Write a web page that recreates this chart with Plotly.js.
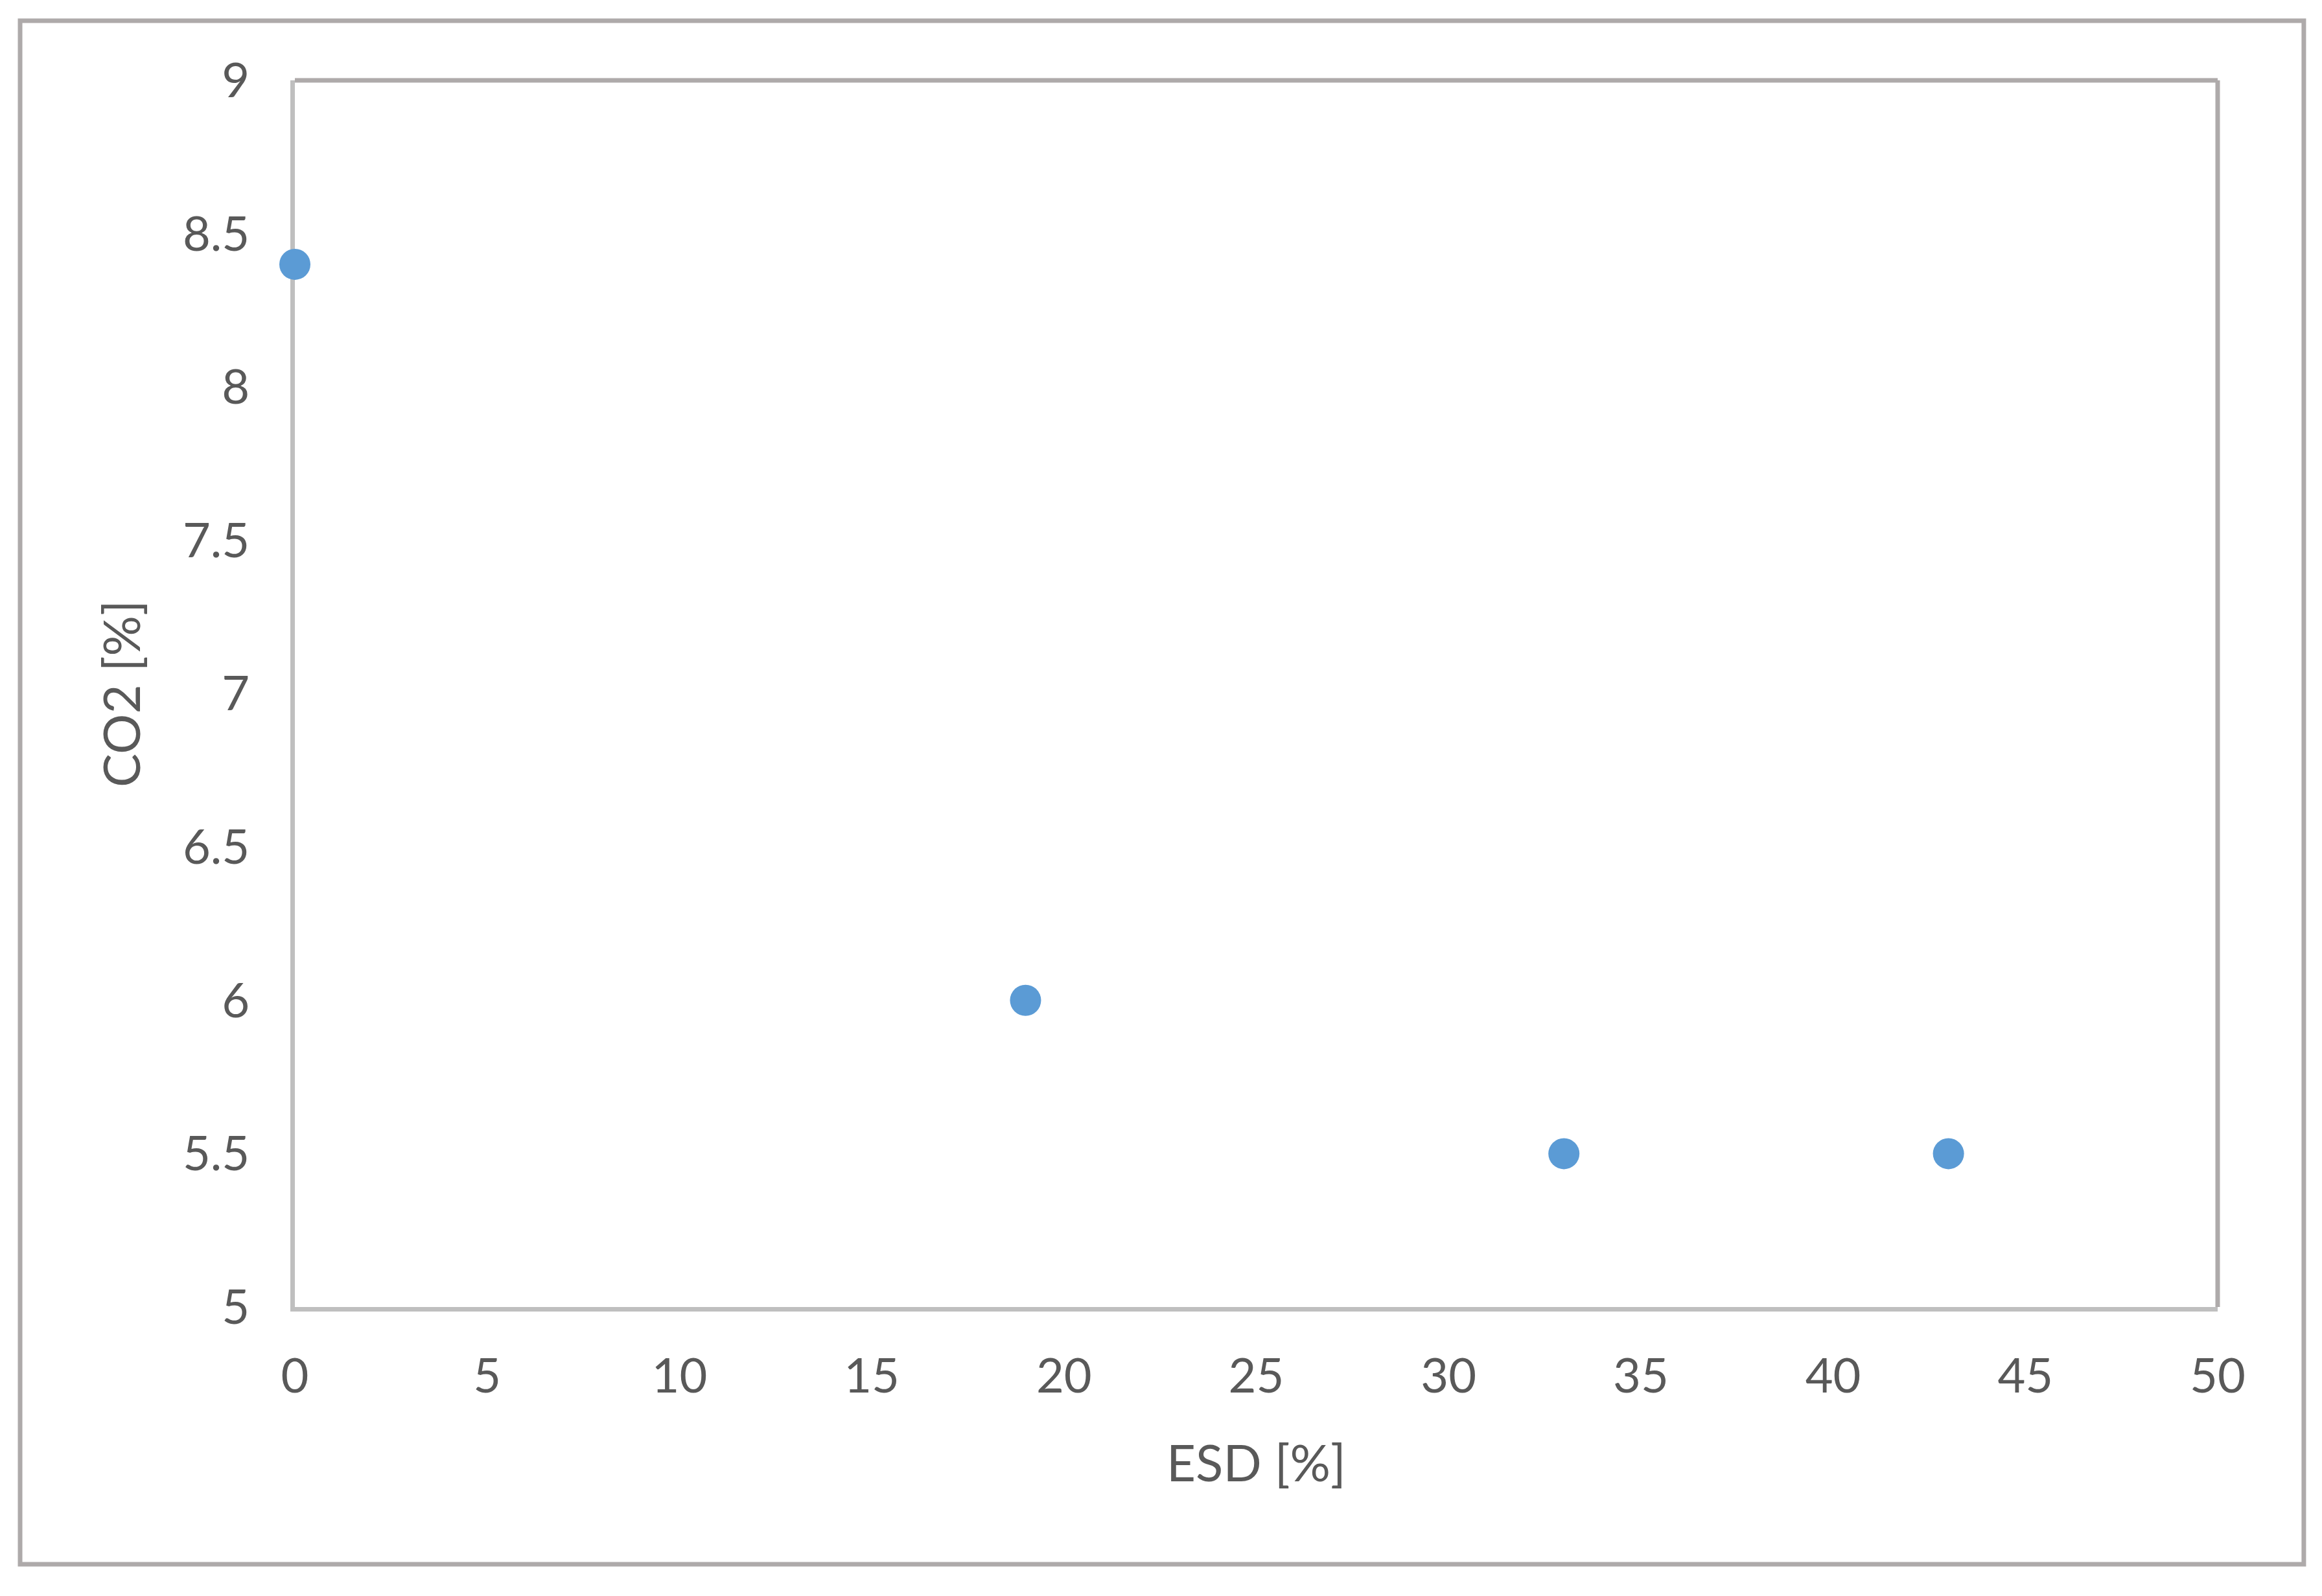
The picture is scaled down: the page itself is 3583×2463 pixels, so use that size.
<!DOCTYPE html>
<html>
<head>
<meta charset="utf-8">
<script src="https://cdn.plot.ly/plotly-3.0.1.min.js"></script>
<style>
  html, body { margin: 0; padding: 0; background: #ffffff; }
  #chart { width: 3583px; height: 2463px; }
</style>
</head>
<body>
<div id="chart"></div>
<script>
// ESD vs CO2 values
const esdVals = [0, 19, 33, 43];
const co2Vals = [8.4, 6, 5.5, 5.5];

const textColor = '#595959';
const axisColor = '#BFBFBF';
const borderColor = '#AEAAAA';

const trace = {
    x: esdVals,
    y: co2Vals,
    type: 'scatter',
    mode: 'markers',
    marker: { color: '#5B9BD5', size: 48 },
    cliponaxis: false,
    hoverinfo: 'x+y'
};

// plot area spans x 455..3422, y 124..2017 of the page
const layout = {
    width: 3583,
    height: 2463,
    margin: { l: 455, r: 161, t: 124, b: 446 },
    paper_bgcolor: '#ffffff',
    plot_bgcolor: '#ffffff',
    showlegend: false,
    font: { family: 'Lato, "Open Sans", sans-serif', color: textColor },
    xaxis: {
        range: [0, 50],
        dtick: 5,
        tick0: 0,
        showgrid: false,
        zeroline: false,
        showline: true,
        linecolor: axisColor,
        linewidth: 7,
        ticks: '',
        layer: 'below traces',
        tickfont: { size: 74, color: textColor },
        ticklabelstandoff: 36,
        title: { text: 'ESD [%]', font: { size: 78, color: textColor }, standoff: 70 }
    },
    yaxis: {
        range: [5, 9],
        dtick: 0.5,
        tick0: 5,
        showgrid: false,
        zeroline: false,
        showline: true,
        linecolor: axisColor,
        linewidth: 7,
        ticks: '',
        layer: 'below traces',
        tickfont: { size: 74, color: textColor },
        ticklabelstandoff: 48,
        title: { text: 'CO2 [%]', font: { size: 78, color: textColor }, standoff: 42 }
    },
    shapes: [
        // top and right edges of the plot area
        { type: 'line', xref: 'paper', yref: 'paper', x0: 0, x1: 1, y0: 1, y1: 1,
          line: { color: borderColor, width: 7 }, layer: 'below' },
        { type: 'line', xref: 'paper', yref: 'paper', x0: 1, x1: 1, y0: 0, y1: 1,
          line: { color: borderColor, width: 7 }, layer: 'below' },
        // outer chart frame
        { type: 'rect', xref: 'paper', yref: 'paper',
          x0: -0.1429, x1: 1.0448, y0: -0.2097, y1: 1.0486,
          line: { color: borderColor, width: 7 }, layer: 'below' }
    ]
};

Plotly.newPlot('chart', [trace], layout, { displayModeBar: false, staticPlot: true });
</script>
</body>
</html>
